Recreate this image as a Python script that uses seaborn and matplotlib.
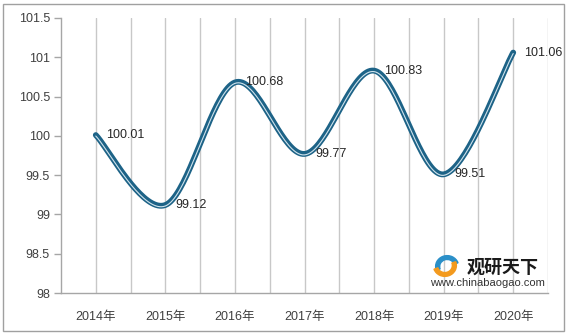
import numpy as np
import pandas as pd
import matplotlib
matplotlib.use("Agg")
import matplotlib.pyplot as plt
import matplotlib.transforms as mtransforms
import seaborn as sns
from matplotlib.patches import Rectangle, Wedge

years = ["2014年", "2015年", "2016年", "2017年", "2018年", "2019年", "2020年"]
values = [100.01, 99.12, 100.68, 99.77, 100.83, 99.51, 101.06]
value_labels = ["100.01", "99.12", "100.68", "99.77", "100.83", "99.51", "101.06"]
y_ticks = [98, 98.5, 99, 99.5, 100, 100.5, 101, 101.5]
y_tick_labels = ["98", "98.5", "99", "99.5", "100", "100.5", "101", "101.5"]

sns.set_theme(style="white")
plt.rcParams["font.family"] = ["Liberation Sans", "Noto Sans CJK SC"]

fig = plt.figure(figsize=(5.69, 3.35), dpi=100)
ax = fig.add_axes([61 / 569, 42 / 335, 487 / 569, 275 / 335])

x = np.arange(len(values), dtype=float)
y = np.array(values, dtype=float)


def smooth_curve(xs, ys, n=40):
    """Bezier smoothing between consecutive points (spreadsheet-style)."""
    px = np.concatenate([[xs[0]], xs, [xs[-1]]])
    py = np.concatenate([[ys[0]], ys, [ys[-1]]])
    out_x, out_y = [], []
    t = np.linspace(0, 1, n)
    for i in range(1, len(px) - 2):
        p0 = np.array([px[i], py[i]])
        p3 = np.array([px[i + 1], py[i + 1]])
        c1 = p0 + (np.array([px[i + 1], py[i + 1]]) - np.array([px[i - 1], py[i - 1]])) / 6
        c2 = p3 - (np.array([px[i + 2], py[i + 2]]) - np.array([px[i], py[i]])) / 6
        b = ((1 - t) ** 3)[:, None] * p0 + (3 * (1 - t) ** 2 * t)[:, None] * c1 \
            + (3 * (1 - t) * t ** 2)[:, None] * c2 + (t ** 3)[:, None] * p3
        out_x.extend(b[:, 0])
        out_y.extend(b[:, 1])
    return np.array(out_x), np.array(out_y)


sx, sy = smooth_curve(x, y)
curve = pd.DataFrame({"x": sx, "y": sy})

# vertical grid at categories and between them
for gx in np.arange(0, len(values) - 0.5 + 0.01, 0.5):
    ax.axvline(gx, color="#c8c8c8", lw=1.0, zorder=0)

# compound line: dark outer stroke with a thin light stripe slightly below centre
sns.lineplot(data=curve, x="x", y="y", ax=ax, color="#1d6387", lw=4.2,
             sort=False, estimator=None, zorder=3, solid_capstyle="round")
stripe_tf = mtransforms.offset_copy(ax.transData, fig=fig, x=0, y=-0.7, units="points")
sns.lineplot(data=curve, x="x", y="y", ax=ax, color="#cfe2ec", lw=0.8,
             sort=False, estimator=None, zorder=4, transform=stripe_tf)

for xi, yi, lab in zip(x, y, value_labels):
    ax.annotate(lab, (xi, yi), xytext=(7.5, 0), textcoords="offset points",
                ha="left", va="center", fontsize=9, color="#262626", zorder=5)

ax.set_xlim(-0.5, len(values) - 0.5)
ax.set_ylim(98, 101.5)
ax.set_xticks(x)
ax.set_xticklabels(years, fontsize=9, color="#404040")
ax.set_yticks(y_ticks)
ax.set_yticklabels(y_tick_labels, fontsize=9, color="#404040")
ax.set_xlabel("")
ax.set_ylabel("")
ax.grid(False)

for side in ["top", "right"]:
    ax.spines[side].set_visible(False)
for side in ["left", "bottom"]:
    ax.spines[side].set_color("#a6a6a6")
    ax.spines[side].set_linewidth(1.0)
ax.tick_params(axis="y", which="major", left=True, length=5, width=1,
               color="#a6a6a6", pad=3)
ax.tick_params(axis="x", which="major", bottom=False, pad=7)

# watermark
fig.text(467 / 569, 1 - 267 / 335, "观研天下", fontsize=13, fontweight="bold",
         color="#1a1a1a", ha="left", va="center", family=["Noto Sans CJK SC"])
fig.text(430 / 569, 1 - 283 / 335, "www.chinabaogao.com", fontsize=8,
         color="#333333", ha="left", va="center")
logo_ax = fig.add_axes([431 / 569, 1 - 278 / 335, 30 / 569, 24 / 335])
logo_ax.set_xlim(-1.3, 1.3)
logo_ax.set_ylim(-1.1, 1.1)
logo_ax.axis("off")
logo_ax.add_patch(Wedge((0.1, -0.05), 1.0, 20, 200, width=0.35, color="#2a8fc8"))
logo_ax.add_patch(Wedge((-0.1, 0.05), 1.0, 200, 380, width=0.35, color="#f39a1e"))

fig.patches.append(Rectangle((3 / 569, 4 / 335), 561 / 569, 327 / 335,
                             transform=fig.transFigure, fill=False,
                             edgecolor="#a0a0a0", lw=1.0))

fig.savefig("out.png", dpi=100)
